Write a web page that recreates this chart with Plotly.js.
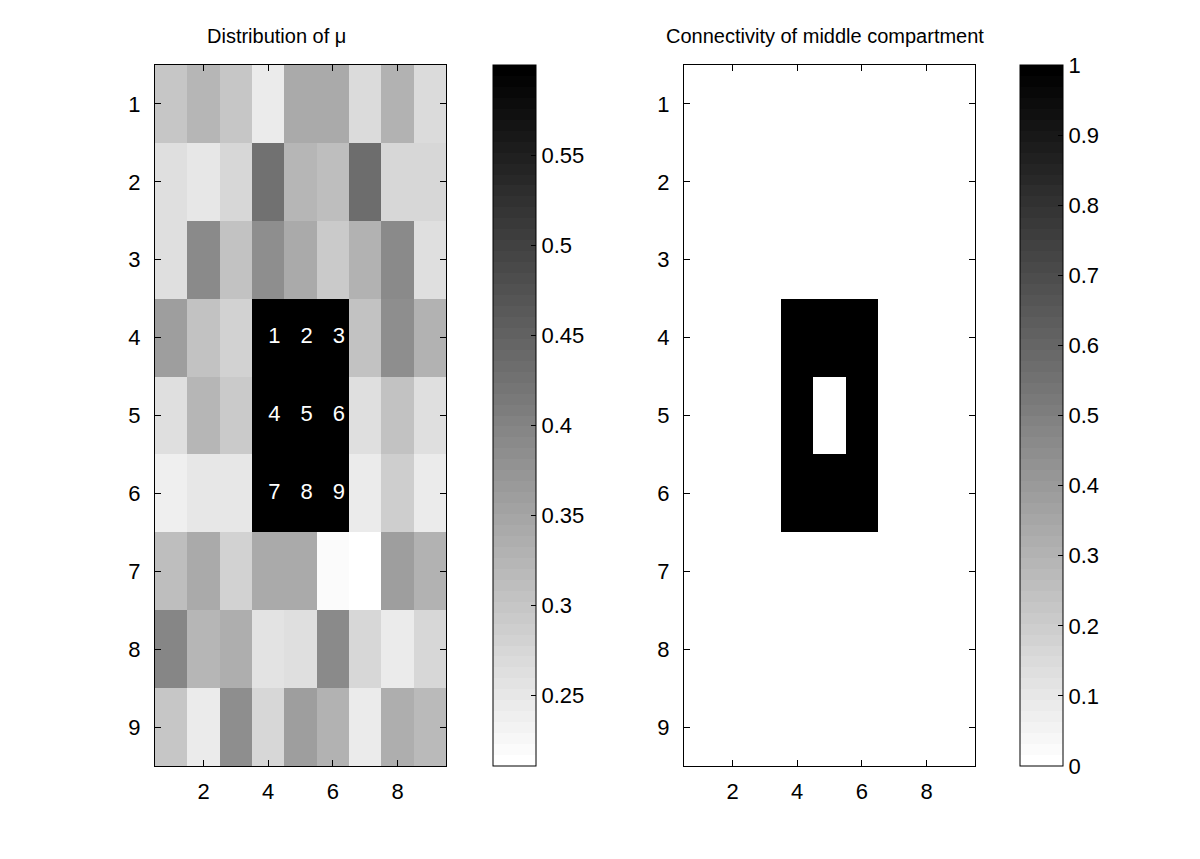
<!DOCTYPE html>
<html>
<head>
<meta charset="utf-8">
<script src="https://cdn.plot.ly/plotly-3.0.1.min.js"></script>
<style>html,body{margin:0;padding:0;background:#fff;}#chart{width:1200px;height:859px;}</style>
</head>
<body>
<div id="chart"></div>
<script>
// Grid coordinates
const cols = [1, 2, 3, 4, 5, 6, 7, 8, 9];
const rows = [1, 2, 3, 4, 5, 6, 7, 8, 9];

// Distribution of mu (rows 1..9 top to bottom)
const muValues = [
  [0.301, 0.325, 0.298, 0.243, 0.344, 0.344, 0.267, 0.332, 0.267],
  [0.264, 0.249, 0.274, 0.429, 0.325, 0.310, 0.432, 0.277, 0.277],
  [0.264, 0.390, 0.307, 0.383, 0.344, 0.295, 0.332, 0.393, 0.264],
  [0.362, 0.307, 0.283, 0.600, 0.600, 0.600, 0.307, 0.383, 0.332],
  [0.264, 0.325, 0.295, 0.600, 0.600, 0.600, 0.264, 0.307, 0.264],
  [0.237, 0.249, 0.249, 0.600, 0.600, 0.600, 0.246, 0.289, 0.246],
  [0.313, 0.344, 0.283, 0.344, 0.344, 0.219, 0.211, 0.359, 0.332],
  [0.396, 0.325, 0.338, 0.258, 0.264, 0.393, 0.277, 0.243, 0.277],
  [0.301, 0.243, 0.386, 0.277, 0.362, 0.332, 0.246, 0.338, 0.319]
];
const muMin = 0.211, muMax = 0.600;

// Connectivity of middle compartment
const connValues = [
  [0, 0, 0, 0, 0, 0, 0, 0, 0],
  [0, 0, 0, 0, 0, 0, 0, 0, 0],
  [0, 0, 0, 0, 0, 0, 0, 0, 0],
  [0, 0, 0, 1, 1, 1, 0, 0, 0],
  [0, 0, 0, 1, 0, 1, 0, 0, 0],
  [0, 0, 0, 1, 1, 1, 0, 0, 0],
  [0, 0, 0, 0, 0, 0, 0, 0, 0],
  [0, 0, 0, 0, 0, 0, 0, 0, 0],
  [0, 0, 0, 0, 0, 0, 0, 0, 0]
];

// Labels of middle-compartment cells
const labelX = [4, 5, 6, 4, 5, 6, 4, 5, 6];
const labelY = [4, 4, 4, 5, 5, 5, 6, 6, 6];
const labelText = ['1', '2', '3', '4', '5', '6', '7', '8', '9'];

const xTicks = [2, 4, 6, 8];
const yTicks = [1, 2, 3, 4, 5, 6, 7, 8, 9];
const muCbTicks = [0.25, 0.3, 0.35, 0.4, 0.45, 0.5, 0.55];
const connCbTicks = [0, 0.1, 0.2, 0.3, 0.4, 0.5, 0.6, 0.7, 0.8, 0.9, 1];

// MATLAB flipud(gray(64)) as a stepped colorscale
const N = 64;
const grayScale = [];
for (let i = 0; i < N; i++) {
  const g = Math.round(255 * (1 - i / (N - 1)));
  const c = 'rgb(' + g + ',' + g + ',' + g + ')';
  grayScale.push([i / N, c]);
  grayScale.push([(i + 1) / N, c]);
}

const W = 1200, H = 859;
const plotTop = 65, plotBottom = 766;
const yTopP = 1 - plotTop / H, yBotP = 1 - plotBottom / H;
const FONT = 'Liberation Sans, Arial, sans-serif';
const TICKSIZE = 22;

function cb(x, ticks) {
  return {
    x: x / W, xanchor: 'left', xpad: 0, ypad: 0,
    y: yTopP, yanchor: 'top',
    thickness: 43, thicknessmode: 'pixels',
    len: plotBottom - plotTop, lenmode: 'pixels',
    outlinewidth: 1, outlinecolor: '#000',
    tickvals: ticks, ticks: 'inside', ticklen: 5, tickcolor: '#000',
    tickfont: {family: FONT, size: TICKSIZE, color: '#000'},
    borderwidth: 0
  };
}

const traces = [
  {
    type: 'heatmap', x: cols, y: rows, z: muValues,
    zmin: muMin, zmax: muMax, colorscale: grayScale,
    xaxis: 'x', yaxis: 'y', colorbar: cb(493, muCbTicks), hoverinfo: 'z'
  },
  {
    type: 'scatter', mode: 'text', x: labelX, y: labelY, text: labelText,
    textposition: 'middle right',
    textfont: {family: FONT, size: TICKSIZE, color: '#fff'},
    xaxis: 'x', yaxis: 'y', showlegend: false, hoverinfo: 'skip'
  },
  {
    type: 'heatmap', x: cols, y: rows, z: connValues,
    zmin: 0, zmax: 1, colorscale: grayScale,
    xaxis: 'x2', yaxis: 'y2', colorbar: cb(1020, connCbTicks), hoverinfo: 'z'
  }
];

function xax(d0, d1, anchor) {
  return {
    domain: [d0 / W, d1 / W], anchor: anchor, range: [0.5, 9.5],
    tickvals: xTicks, ticks: 'inside', ticklen: 6, tickcolor: '#000',
    showline: true, linecolor: '#000', linewidth: 1, mirror: 'ticks',
    showgrid: false, zeroline: false, fixedrange: true,
    ticklabelstandoff: 6,
    tickfont: {family: FONT, size: TICKSIZE, color: '#000'}
  };
}
function yax(anchor) {
  return {
    domain: [yBotP, yTopP], anchor: anchor, range: [9.5, 0.5],
    tickvals: yTicks, ticks: 'inside', ticklen: 6, tickcolor: '#000',
    showline: true, linecolor: '#000', linewidth: 1, mirror: 'ticks',
    showgrid: false, zeroline: false, fixedrange: true,
    ticklabelstandoff: 9,
    tickfont: {family: FONT, size: TICKSIZE, color: '#000'}
  };
}

const layout = {
  width: W, height: H,
  margin: {l: 0, r: 0, t: 0, b: 0},
  paper_bgcolor: '#fff', plot_bgcolor: '#fff',
  showlegend: false,
  xaxis: xax(155, 446, 'y'),
  yaxis: yax('x'),
  xaxis2: xax(684, 975, 'y2'),
  yaxis2: yax('x2'),
  annotations: [
    {text: 'Distribution of μ', xref: 'paper', yref: 'paper',
     x: 276 / W, y: 1 - 36 / H, xanchor: 'center', yanchor: 'middle', showarrow: false,
     font: {family: FONT, size: 20, color: '#000'}},
    {text: 'Connectivity of middle compartment', xref: 'paper', yref: 'paper',
     x: 825 / W, y: 1 - 36 / H, xanchor: 'center', yanchor: 'middle', showarrow: false,
     font: {family: FONT, size: 20, color: '#000'}}
  ]
};

Plotly.newPlot('chart', traces, layout, {displayModeBar: false, staticPlot: true});
</script>
</body>
</html>
